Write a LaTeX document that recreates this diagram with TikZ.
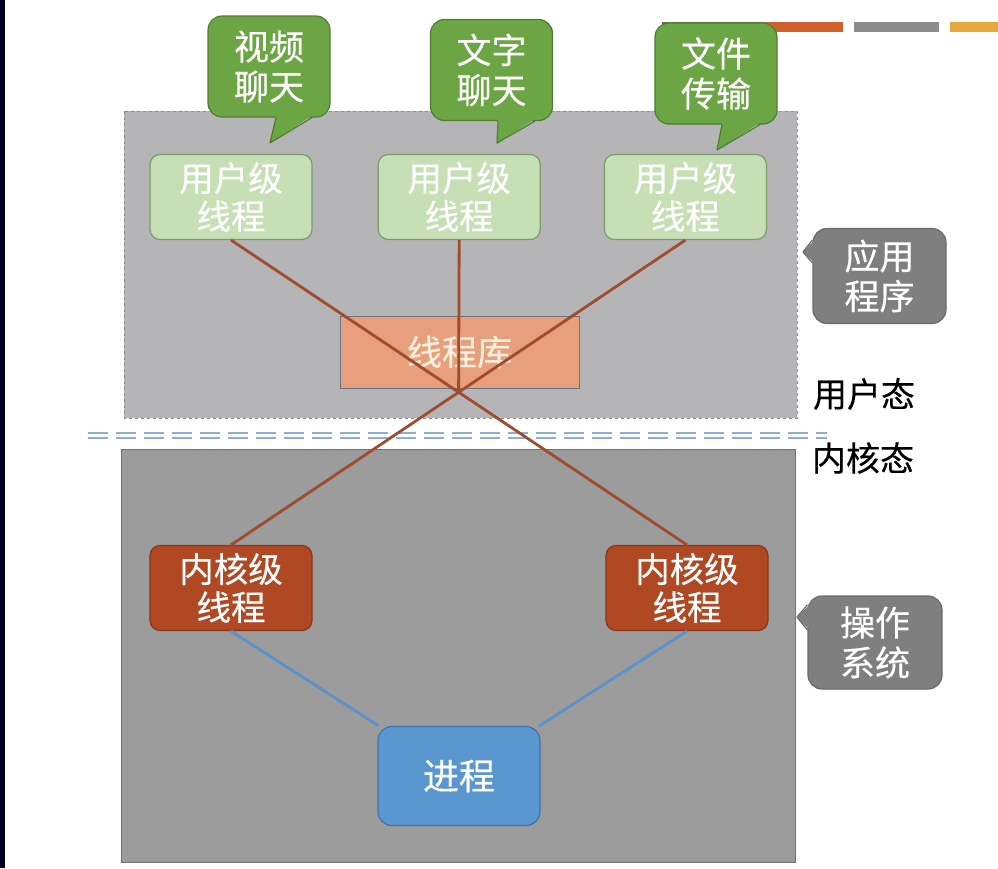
\documentclass[tikz,border=0pt]{standalone}
\usepackage{fontspec}
\setmainfont{Noto Sans CJK SC}[FakeBold=0.3]
\usetikzlibrary{positioning}

\definecolor{appfill}{HTML}{B5B5B7}
\definecolor{osfill}{HTML}{9C9C9C}
\definecolor{userfill}{HTML}{C6DFB5}
\definecolor{userbd}{HTML}{7C9A6C}
\definecolor{callgreen}{HTML}{6BA544}
\definecolor{callgreenbd}{HTML}{4F7D31}
\definecolor{callgray}{HTML}{7F7F7F}
\definecolor{callgraybd}{HTML}{6A6A6A}
\definecolor{libfill}{HTML}{E8A07C}
\definecolor{libbd}{HTML}{6C7480}
\definecolor{kernfill}{HTML}{B04824}
\definecolor{kernbd}{HTML}{8A3518}
\definecolor{procfill}{HTML}{5A96CF}
\definecolor{procbd}{HTML}{3F74A8}
\definecolor{brownline}{HTML}{A04B2D}
\definecolor{blueline}{HTML}{5B92CC}
\definecolor{sepblue}{HTML}{8EAED6}
\definecolor{barorange}{HTML}{D2622D}
\definecolor{bargray}{HTML}{8C8C8C}
\definecolor{baryellow}{HTML}{E8A83A}

\begin{document}
\begin{tikzpicture}[x=1pt,y=-1pt,
  node distance=65pt and 65pt,
  userthr/.style={draw=userbd,fill=userfill,line width=1.2pt,rounded corners=10pt,minimum width=162pt,minimum height=85pt,text=white,align=center,font=\fontsize{34.5}{38}\selectfont},
  kernthr/.style={userthr,draw=kernbd,fill=kernfill},
  callg/.style={draw=callgreenbd,fill=callgreen,line width=1.2pt,rounded corners=14pt,minimum width=122pt,minimum height=101pt,text=white,align=center,font=\fontsize{35}{40}\selectfont},
  callk/.style={callg,draw=callgraybd,fill=callgray,minimum width=133pt,minimum height=95pt,font=\fontsize{35}{40}\selectfont},
  thrline/.style={brownline,line width=2.8pt},
  procline/.style={blueline,line width=2.8pt},
  sepline/.style={sepblue,line width=2.2pt,dash pattern=on 20pt off 8pt}
]
\useasboundingbox (0,0) rectangle (998,868);
\fill[white] (0,0) rectangle (998,868);
\fill[black!85!blue] (0,0) rectangle (5,868);

% top right bars
\draw[black!60,line width=2pt] (662,23) -- (763,23);
\fill[barorange] (763,22) rectangle (843,32);
\fill[bargray] (854,22) rectangle (939,32);
\fill[baryellow] (950,22) rectangle (998,32);

% user space / kernel space
\draw[black!45,dashed,fill=appfill] (124,111) rectangle (797,418);
\draw[black!55,fill=osfill] (121,449) rectangle (795,862);
\draw[sepline] (88,433) -- (827,433);
\draw[sepline] (88,438) -- (827,438);

\node[fill=libfill,draw=libbd,line width=1pt,minimum width=239pt,minimum height=72pt,text=orange!12,font=\fontsize{35}{38}\selectfont] (lib) at (459.5,352) {线程库};

\node[userthr] (u1) at (231,197) {用户级\\线程};
\node[userthr,right=of u1] (u2) {用户级\\线程};
\node[userthr,right=63pt of u2] (u3) {用户级\\线程};

\node[kernthr] (k1) at (231,588) {内核级\\线程};
\node[kernthr] (k2) at (687,588) {内核级\\线程};
\node[userthr,draw=procbd,fill=procfill,minimum height=99pt,rounded corners=14pt,font=\fontsize{36}{40}\selectfont] (p) at (459,776) {进程};

\draw[thrline] (u1.south) -- (k2.north);
\draw[thrline] (u3.south) -- (k1.north);
\draw[thrline] (u2.south) -- (intersection of u1.south--k2.north and u3.south--k1.north);

\draw[procline] (k1.south) -- (p.148);
\draw[procline] (k2.south) -- (p.32);

% callouts
\node[callg] (c1) at (269,66.5) {视频\\聊天};
\node[callg] (c2) at (491.5,70) {文字\\聊天};
\node[callg] (c3) at (716,73.5) {文件\\传输};
\foreach \c/\l/\r/\tx/\ty in {c1/7/43/270/143, c2/6.5/43.5/497/143, c3/6/44/717/150}{
  \fill[callgreen] ([xshift=\l pt,yshift=2pt]\c.south) -- (\tx,\ty) -- ([xshift=\r pt,yshift=2pt]\c.south) -- cycle;
  \draw[callgreenbd,line width=1.2pt,line join=round] ([xshift=\l pt]\c.south) -- (\tx,\ty) -- ([xshift=\r pt]\c.south);
}

\node[callk] (g1) at (879.5,276) {应用\\程序};
\node[callk,minimum width=134pt,minimum height=93pt] (g2) at (875,642.5) {操作\\系统};
\foreach \c/\t/\b/\tx/\ty in {g1/36/13/803/252, g2/37.5/12.5/797/617}{
  \fill[callgray] ([xshift=2pt,yshift=\t pt]\c.west) -- (\tx,\ty) -- ([xshift=2pt,yshift=\b pt]\c.west) -- cycle;
  \draw[callgraybd,line width=1.2pt,line join=round] ([yshift=\t pt]\c.west) -- (\tx,\ty) -- ([yshift=\b pt]\c.west);
}

\node[font=\fontsize{34}{38}\selectfont] (us) at (864,394) {用户态};
\node[font=\fontsize{34}{38}\selectfont] (ks) at (863,458) {内核态};
\end{tikzpicture}
\end{document}
